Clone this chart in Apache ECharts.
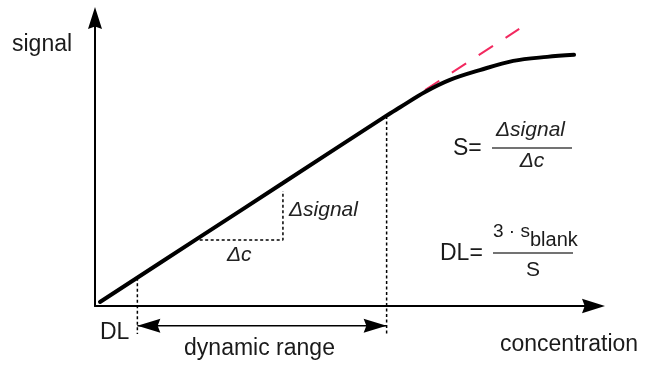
<!DOCTYPE html>
<html><head><meta charset="utf-8">
<script src="https://cdn.jsdelivr.net/npm/echarts@6/dist/echarts.min.js"></script>
<style>html,body{margin:0;padding:0;background:#fff}#c{width:645px;height:366px}</style>
</head><body><div id="c"></div>
<script>
// Calibration curve (arbitrary units 0–100 on both axes)
const curveConc    = [1.0, 21.0, 37.7, 58.4, 61.2, 66.2, 71.2, 77.2, 83.9, 90.7, 96.1];
const curveSignal  = [1.4, 23.9, 42.7, 66.0, 69.0, 74.3, 78.5, 81.9, 85.1, 86.5, 87.2];
// Extrapolated linear part (dashed)
const tangentConc   = [66.2, 85.1];
const tangentSignal = [75.0, 96.2];
// Detection limit and end of linear (dynamic) range
const dlConc = 8.5, dlSignal = 9.8;
const endConc = 58.5, endSignal = 66.0;
const guideBottom = -9.7;      // dotted guides run below the x axis
const rangeArrowSignal = -6.9; // level of the "dynamic range" arrow
// Slope triangle
const triConc   = [21.0, 37.7, 37.7];
const triSignal = [22.9, 22.9, 39.9];

const FONT = "'Liberation Sans', Arial, sans-serif";
const TXT = '#1a1a1a';
const ARROW = 'path://M0,0 L7,22 L0,19.4 L-7,22 Z';

const pairs = (xs, ys) => xs.map((x, i) => [x, ys[i]]);

function txt(text, x, y, size, opts) {
  opts = opts || {};
  return {
    type: 'text', silent: true, z: 100,
    style: {
      text: text, x: x, y: y,
      font: (opts.italic ? 'italic ' : '') + size + 'px ' + FONT,
      fill: opts.color || TXT,
      textAlign: opts.align || 'left',
      textVerticalAlign: 'middle'
    }
  };
}
function hline(x1, x2, y) {
  return { type: 'line', silent: true, z: 100,
    shape: { x1: x1, y1: y, x2: x2, y2: y },
    style: { stroke: '#444', lineWidth: 1.5 } };
}

const chart = echarts.init(document.getElementById('c'), null, { renderer: 'canvas' });
chart.setOption({
  animation: false,
  backgroundColor: '#ffffff',
  grid: { left: 95, right: 51.5, top: 18, bottom: 60, containLabel: false, outerBoundsMode: 'none' },
  xAxis: {
    type: 'value', min: 0, max: 100,
    axisLine: { show: true, onZero: true, symbol: ['none', ARROW], symbolSize: [15, 23],
      lineStyle: { color: '#000', width: 2 } },
    axisTick: { show: false }, axisLabel: { show: false }, splitLine: { show: false }
  },
  yAxis: {
    type: 'value', min: 0, max: 100,
    axisLine: { show: true, onZero: true, symbol: ['none', ARROW], symbolSize: [14, 22],
      lineStyle: { color: '#000', width: 2 } },
    axisTick: { show: false }, axisLabel: { show: false }, splitLine: { show: false }
  },
  series: [
    { type: 'line', data: pairs(curveConc, curveSignal), smooth: 0.35, symbol: 'none', clip: false,
      lineStyle: { color: '#000', width: 4, cap: 'round' }, z: 5 },
    { type: 'line', data: pairs(tangentConc, tangentSignal), symbol: 'none', clip: false,
      lineStyle: { color: '#f2295f', width: 2, type: [17, 15] }, z: 4 },
    { type: 'line', data: [[dlConc, dlSignal], [dlConc, guideBottom]], symbol: 'none', clip: false,
      lineStyle: { color: '#000', width: 1.5, type: [3, 2.5] }, z: 3 },
    { type: 'line', data: [[endConc, endSignal], [endConc, guideBottom]], symbol: 'none', clip: false,
      lineStyle: { color: '#000', width: 1.5, type: [3, 2.5] }, z: 3 },
    { type: 'line', data: pairs(triConc, triSignal), symbol: 'none', clip: false,
      lineStyle: { color: '#000', width: 1.5, type: [3, 2.5] }, z: 3 },
    { type: 'line', clip: false, showSymbol: true, symbol: ARROW, symbolSize: [14, 23],
      itemStyle: { color: '#000' },
      lineStyle: { color: '#000', width: 1.5 }, z: 6,
      data: [
        { value: [dlConc, rangeArrowSignal], symbolRotate: 90, symbolOffset: [11.5, 0] },
        { value: [endConc, rangeArrowSignal], symbolRotate: -90, symbolOffset: [-11.5, 0] }
      ] }
  ],
  graphic: [
    txt('signal', 12, 45, 23),
    txt('concentration', 500, 345, 23),
    txt('DL', 100, 333, 23),
    txt('dynamic range', 259.5, 349, 23, { align: 'center' }),
    txt('\u0394signal', 289, 209.7, 21, { italic: true, color: '#222' }),
    txt('\u0394c', 227, 254.7, 21, { italic: true, color: '#222' }),
    // S = Δsignal / Δc
    txt('S=', 453, 149, 23),
    hline(492, 572, 148),
    txt('\u0394signal', 530.5, 129.7, 21, { italic: true, align: 'center', color: '#222' }),
    txt('\u0394c', 532, 160.7, 21, { italic: true, align: 'center', color: '#222' }),
    // DL = 3 · s_blank / S
    txt('DL=', 440, 254, 23),
    hline(493, 573, 253),
    txt('3 \u00b7 s', 493, 231.4, 19),
    txt('blank', 530, 240, 20),
    txt('S', 533, 270, 21, { align: 'center' })
  ]
});
</script></body></html>
